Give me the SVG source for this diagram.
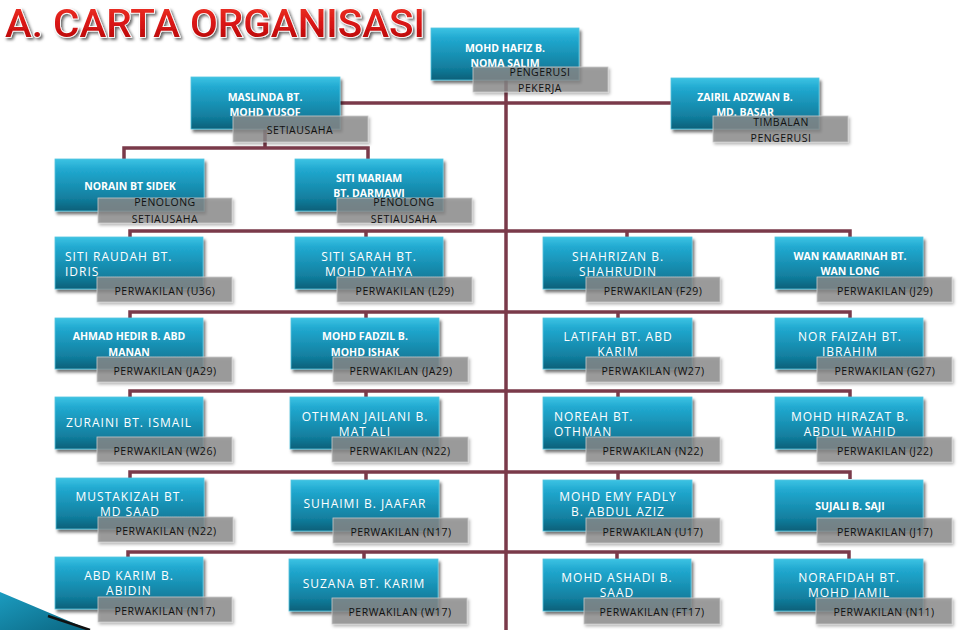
<svg xmlns="http://www.w3.org/2000/svg" width="960" height="630" viewBox="0 0 960 630">
<defs>
<linearGradient id="tg" x1="0" y1="0" x2="0" y2="1">
<stop offset="0" stop-color="#3cc3e3"/>
<stop offset="0.2" stop-color="#21a9d0"/>
<stop offset="0.75" stop-color="#127f9f"/>
<stop offset="1" stop-color="#0a6079"/>
</linearGradient>
<linearGradient id="rg" x1="0" y1="0" x2="0" y2="1">
<stop offset="0" stop-color="#f03a2a"/>
<stop offset="0.5" stop-color="#d81414"/>
<stop offset="1" stop-color="#a80808"/>
</linearGradient>
<linearGradient id="dg" x1="0" y1="0" x2="1" y2="1">
<stop offset="0" stop-color="#1b9cc0"/>
<stop offset="1" stop-color="#0b6580"/>
</linearGradient>
<filter id="sh" x="-10%" y="-10%" width="130%" height="140%">
<feDropShadow dx="2" dy="3" stdDeviation="1.6" flood-color="#000" flood-opacity="0.55"/>
</filter>
<filter id="sh2" x="-10%" y="-10%" width="130%" height="150%">
<feDropShadow dx="1.5" dy="2" stdDeviation="1.5" flood-color="#000" flood-opacity="0.35"/>
</filter>
<filter id="tsh" x="-5%" y="-20%" width="110%" height="160%">
<feDropShadow dx="2" dy="2" stdDeviation="1.5" flood-color="#000" flood-opacity="0.6"/>
</filter>
<style>
.box{fill:url(#tg);stroke:#55c4de;stroke-width:0.8;filter:url(#sh)}
.lab{fill:#8c8c8c;fill-opacity:0.78;stroke:#c8c8c8;stroke-width:0.8;filter:url(#sh2)}
.nm{font-family:"Open Sans","Liberation Sans",sans-serif;font-size:12px;fill:#fff;letter-spacing:1px;text-anchor:middle}
.nl{font-family:"Open Sans","Liberation Sans",sans-serif;font-size:12px;fill:#fff;letter-spacing:1px;text-anchor:start}
.nb{font-family:"Open Sans","Liberation Sans",sans-serif;font-weight:bold;font-size:10.5px;fill:#fff;text-anchor:middle}
.lt{font-family:"Open Sans","Liberation Sans",sans-serif;font-size:10.5px;fill:#111;letter-spacing:0.5px;text-anchor:middle}
.cn{stroke:#7a3a4a;stroke-width:3.5;fill:none}
</style>
</defs>
<rect width="960" height="630" fill="#fff"/>

<g id="title">
<text x="5" y="37" textLength="420" lengthAdjust="spacingAndGlyphs" font-family="Roboto, Liberation Sans, sans-serif" font-weight="500" font-size="39" fill="url(#rg)" stroke="#fff" stroke-width="1.6" paint-order="stroke" filter="url(#tsh)">A. CARTA ORGANISASI</text>
</g>

<g id="decor">
<polygon points="0,592 90,630 0,630" fill="url(#dg)"/>
<line x1="48" y1="616" x2="90" y2="630" stroke="#111" stroke-width="2.5"/>
</g>

<g id="connectors" class="cn">
<line x1="506" y1="80" x2="506" y2="630"/>
<line x1="340" y1="103" x2="671" y2="103"/>
<polyline points="265,129 265,148"/>
<polyline points="124,159 124,148 368,148 368,159"/>
<polyline points="130,237 130,231 850,231 850,237"/>
<line x1="366" y1="231" x2="366" y2="237"/>
<line x1="627" y1="231" x2="627" y2="237"/>
<polyline points="130,318 130,312 850,312 850,318"/>
<line x1="366" y1="312" x2="366" y2="318"/>
<line x1="618" y1="312" x2="618" y2="318"/>
<polyline points="130,397 130,391 850,391 850,397"/>
<line x1="366" y1="391" x2="366" y2="397"/>
<line x1="618" y1="391" x2="618" y2="397"/>
<polyline points="130,479 130,472 850,472 850,479"/>
<line x1="366" y1="472" x2="366" y2="480"/>
<line x1="618" y1="472" x2="618" y2="480"/>
<polyline points="128,557 128,552 849,552 849,559"/>
<line x1="364" y1="552" x2="364" y2="559"/>
<line x1="617" y1="552" x2="617" y2="559"/>
</g>

<g id="n-hafiz">
<rect class="box" x="431" y="28" width="148" height="52"/>
<text class="nb" x="505" y="52">MOHD HAFIZ B.</text>
<text class="nb" x="505" y="67">NOMA SALIM</text>
<rect class="lab" x="473" y="67" width="135" height="25"/>
<text class="lt" x="540" y="76">PENGERUSI</text>
<text class="lt" x="540" y="92">PEKERJA</text>
</g>

<g id="n-maslinda">
<rect class="box" x="191" y="77" width="149" height="52"/>
<text class="nb" x="265" y="101">MASLINDA BT.</text>
<text class="nb" x="265" y="116">MOHD YUSOF</text>
<rect class="lab" x="233" y="116" width="135" height="26"/>
<text class="lt" x="300" y="134">SETIAUSAHA</text>
</g>

<g id="n-zairil">
<rect class="box" x="671" y="78" width="148" height="51"/>
<text class="nb" x="745" y="101">ZAIRIL ADZWAN B.</text>
<text class="nb" x="745" y="116">MD. BASAR</text>
<rect class="lab" x="713" y="116" width="135" height="26"/>
<text class="lt" x="781" y="126">TIMBALAN</text>
<text class="lt" x="781" y="142">PENGERUSI</text>
</g>

<g id="n-norain">
<rect class="box" x="55" y="159" width="149" height="52"/>
<text class="nb" x="130" y="190">NORAIN BT SIDEK</text>
<rect class="lab" x="98" y="198" width="134" height="25"/>
<text class="lt" x="165" y="206">PENOLONG</text>
<text class="lt" x="165" y="223">SETIAUSAHA</text>
</g>

<g id="n-sitimariam">
<rect class="box" x="295" y="159" width="148" height="52"/>
<text class="nb" x="369" y="182">SITI MARIAM</text>
<text class="nb" x="369" y="197">BT. DARMAWI</text>
<rect class="lab" x="337" y="198" width="135" height="25"/>
<text class="lt" x="404" y="206">PENOLONG</text>
<text class="lt" x="404" y="223">SETIAUSAHA</text>
</g>

<!-- Row 1 -->
<g id="n-sitiraudah">
<rect class="box" x="55" y="237" width="148" height="52"/>
<text class="nl" x="65" y="261">SITI RAUDAH  BT.</text>
<text class="nl" x="65" y="276">IDRIS</text>
<rect class="lab" x="97" y="277" width="135" height="25"/>
<text class="lt" x="165" y="295">PERWAKILAN (U36)</text>
</g>
<g id="n-sitisarah">
<rect class="box" x="295" y="237" width="148" height="52"/>
<text class="nm" x="369" y="261">SITI SARAH  BT.</text>
<text class="nm" x="369" y="276">MOHD YAHYA</text>
<rect class="lab" x="337" y="277" width="135" height="25"/>
<text class="lt" x="405" y="295">PERWAKILAN (L29)</text>
</g>
<g id="n-shahrizan">
<rect class="box" x="543" y="237" width="149" height="52"/>
<text class="nm" x="618" y="261">SHAHRIZAN B.</text>
<text class="nm" x="618" y="276">SHAHRUDIN</text>
<rect class="lab" x="586" y="277" width="134" height="25"/>
<text class="lt" x="653" y="295">PERWAKILAN (F29)</text>
</g>
<g id="n-wankamarinah">
<rect class="box" x="775" y="237" width="148" height="52"/>
<text class="nb" x="850" y="260">WAN KAMARINAH BT.</text>
<text class="nb" x="850" y="275">WAN LONG</text>
<rect class="lab" x="817" y="277" width="135" height="25"/>
<text class="lt" x="885" y="295">PERWAKILAN (J29)</text>
</g>

<!-- Row 2 -->
<g id="n-ahmadhedir">
<rect class="box" x="55" y="318" width="148" height="51"/>
<text class="nb" x="129" y="340">AHMAD HEDIR  B. ABD</text>
<text class="nb" x="129" y="356">MANAN</text>
<rect class="lab" x="97" y="357" width="135" height="25"/>
<text class="lt" x="165" y="375">PERWAKILAN (JA29)</text>
</g>
<g id="n-mohdfadzil">
<rect class="box" x="291" y="318" width="148" height="51"/>
<text class="nb" x="365" y="340">MOHD FADZIL B.</text>
<text class="nb" x="365" y="356">MOHD ISHAK</text>
<rect class="lab" x="333" y="357" width="135" height="25"/>
<text class="lt" x="401" y="375">PERWAKILAN (JA29)</text>
</g>
<g id="n-latifah">
<rect class="box" x="543" y="318" width="149" height="51"/>
<text class="nm" x="618" y="341">LATIFAH BT. ABD</text>
<text class="nm" x="618" y="356">KARIM</text>
<rect class="lab" x="586" y="357" width="134" height="25"/>
<text class="lt" x="653" y="375">PERWAKILAN (W27)</text>
</g>
<g id="n-norfaizah">
<rect class="box" x="775" y="318" width="148" height="51"/>
<text class="nm" x="850" y="341">NOR FAIZAH BT.</text>
<text class="nm" x="850" y="356">IBRAHIM</text>
<rect class="lab" x="817" y="357" width="135" height="25"/>
<text class="lt" x="885" y="375">PERWAKILAN (G27)</text>
</g>

<!-- Row 3 -->
<g id="n-zuraini">
<rect class="box" x="55" y="397" width="148" height="52"/>
<text class="nm" x="129" y="427">ZURAINI BT. ISMAIL</text>
<rect class="lab" x="97" y="437" width="135" height="25"/>
<text class="lt" x="165" y="455">PERWAKILAN (W26)</text>
</g>
<g id="n-othman">
<rect class="box" x="290" y="397" width="149" height="52"/>
<text class="nm" x="365" y="421">OTHMAN JAILANI B.</text>
<text class="nm" x="365" y="436">MAT ALI</text>
<rect class="lab" x="332" y="437" width="136" height="25"/>
<text class="lt" x="400" y="455">PERWAKILAN (N22)</text>
</g>
<g id="n-noreah">
<rect class="box" x="543" y="397" width="149" height="52"/>
<text class="nl" x="554" y="421">NOREAH BT.</text>
<text class="nl" x="554" y="436">OTHMAN</text>
<rect class="lab" x="586" y="437" width="134" height="25"/>
<text class="lt" x="653" y="455">PERWAKILAN (N22)</text>
</g>
<g id="n-hirazat">
<rect class="box" x="775" y="397" width="148" height="52"/>
<text class="nm" x="850" y="421">MOHD HIRAZAT B.</text>
<text class="nm" x="850" y="436">ABDUL WAHID</text>
<rect class="lab" x="817" y="437" width="135" height="25"/>
<text class="lt" x="885" y="455">PERWAKILAN (J22)</text>
</g>

<!-- Row 4 -->
<g id="n-mustakizah">
<rect class="box" x="56" y="478" width="148" height="51"/>
<text class="nm" x="130" y="501">MUSTAKIZAH BT.</text>
<text class="nm" x="130" y="516">MD SAAD</text>
<rect class="lab" x="98" y="517" width="135" height="25"/>
<text class="lt" x="166" y="535">PERWAKILAN (N22)</text>
</g>
<g id="n-suhaimi">
<rect class="box" x="291" y="480" width="148" height="51"/>
<text class="nm" x="365" y="508">SUHAIMI B. JAAFAR</text>
<rect class="lab" x="333" y="518" width="135" height="25"/>
<text class="lt" x="401" y="536">PERWAKILAN (N17)</text>
</g>
<g id="n-mohdemy">
<rect class="box" x="543" y="480" width="149" height="51"/>
<text class="nm" x="618" y="501">MOHD EMY FADLY</text>
<text class="nm" x="618" y="516">B. ABDUL AZIZ</text>
<rect class="lab" x="586" y="518" width="134" height="25"/>
<text class="lt" x="653" y="536">PERWAKILAN (U17)</text>
</g>
<g id="n-sujali">
<rect class="box" x="775" y="480" width="148" height="51"/>
<text class="nb" x="850" y="510">SUJALI B. SAJI</text>
<rect class="lab" x="817" y="518" width="135" height="25"/>
<text class="lt" x="885" y="536">PERWAKILAN (J17)</text>
</g>

<!-- Row 5 -->
<g id="n-abdkarim">
<rect class="box" x="55" y="557" width="148" height="52"/>
<text class="nm" x="129" y="580">ABD KARIM B.</text>
<text class="nm" x="129" y="595">ABIDIN</text>
<rect class="lab" x="98" y="597" width="134" height="25"/>
<text class="lt" x="165" y="615">PERWAKILAN (N17)</text>
</g>
<g id="n-suzana">
<rect class="box" x="289" y="559" width="149" height="52"/>
<text class="nm" x="364" y="588">SUZANA BT. KARIM</text>
<rect class="lab" x="332" y="598" width="135" height="26"/>
<text class="lt" x="400" y="616">PERWAKILAN (W17)</text>
</g>
<g id="n-ashadi">
<rect class="box" x="543" y="559" width="148" height="52"/>
<text class="nm" x="617" y="582">MOHD ASHADI B.</text>
<text class="nm" x="617" y="597">SAAD</text>
<rect class="lab" x="584" y="598" width="136" height="26"/>
<text class="lt" x="652" y="616">PERWAKILAN (FT17)</text>
</g>
<g id="n-norafidah">
<rect class="box" x="774" y="559" width="149" height="52"/>
<text class="nm" x="849" y="582">NORAFIDAH BT.</text>
<text class="nm" x="849" y="597">MOHD JAMIL</text>
<rect class="lab" x="816" y="598" width="136" height="26"/>
<text class="lt" x="884" y="616">PERWAKILAN (N11)</text>
</g>
</svg>
